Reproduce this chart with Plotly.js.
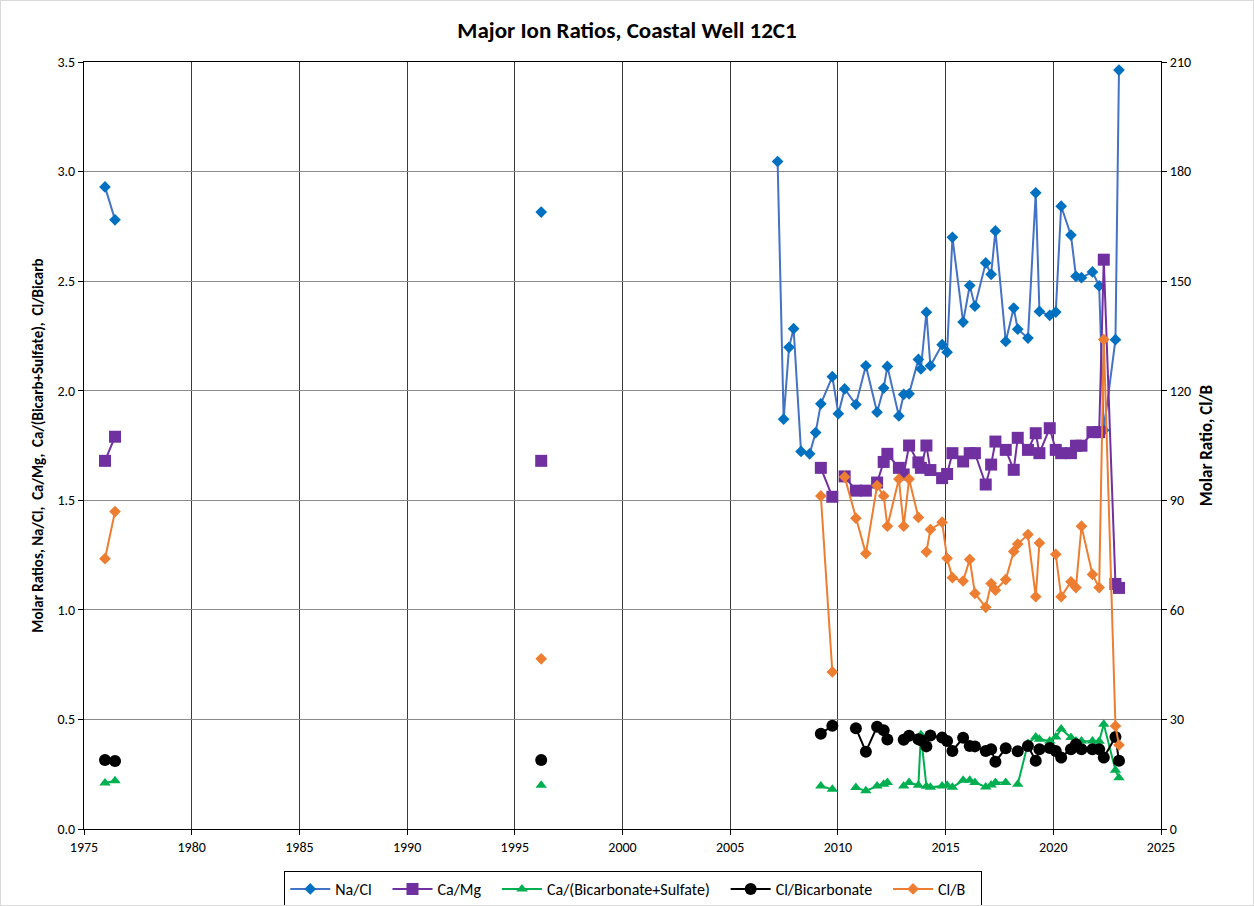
<!DOCTYPE html>
<html>
<head>
<meta charset="utf-8">
<script src="https://cdn.plot.ly/plotly-3.0.1.min.js"></script>
<style>
  html, body { margin: 0; padding: 0; background: #fff; }
  #chart { width: 1252px; height: 904px; border: 1px solid #d9d9d9; }
</style>
</head>
<body>
<div id="chart"></div>
<script>
// Sample dates (decimal years)
const dates = [
  1975.975, 1976.44, 1996.226, 2007.201, 2007.48, 2007.731, 2007.944, 2008.288, 2008.688, 2008.967,
  2009.208, 2009.742, 2010.021, 2010.314, 2010.835, 2011.299, 2011.819, 2012.126, 2012.297, 2012.831,
  2013.054, 2013.305, 2013.737, 2013.853, 2014.109, 2014.294, 2014.838, 2015.07, 2015.316, 2015.813,
  2016.12, 2016.361, 2016.863, 2017.114, 2017.313, 2017.792, 2018.163, 2018.349, 2018.823, 2019.185,
  2019.356, 2019.835, 2020.114, 2020.365, 2020.82, 2021.052, 2021.308, 2021.818, 2022.129, 2022.343,
  2022.886, 2023.049
];

// Series (left axis unless noted); null = no sample
const naCl = [
  2.93, 2.78, 2.815, 3.046, 1.87, 2.198, 2.283, 1.723, 1.712, 1.809,
  1.94, 2.064, 1.895, 2.008, 1.937, 2.114, 1.902, 2.012, 2.111, 1.885,
  1.983, 1.986, 2.143, 2.099, 2.358, 2.114, 2.21, 2.176, 2.70, 2.313,
  2.48, 2.386, 2.583, 2.531, 2.729, 2.225, 2.377, 2.281, 2.24, 2.903,
  2.362, 2.344, 2.359, 2.842, 2.71, 2.522, 2.516, 2.542, 2.478, 1.82,
  2.233, 3.463
];
const caMg = [
  1.68, 1.79, 1.68, null, null, null, null, null, null, null,
  1.648, 1.516, null, 1.609, 1.544, 1.544, 1.581, 1.675, 1.712, 1.648,
  1.618, 1.75, 1.673, 1.648, 1.75, 1.638, 1.601, 1.62, 1.715, 1.677,
  1.715, 1.715, 1.572, 1.663, 1.768, 1.73, 1.639, 1.785, 1.73, 1.806,
  1.715, 1.829, 1.73, 1.715, 1.715, 1.749, 1.749, 1.811, 1.811, 2.598,
  1.118, 1.10
];
const caBicSulf = [
  0.21, 0.22, 0.20, null, null, null, null, null, null, null,
  0.196, 0.181, null, null, 0.189, 0.174, 0.196, 0.204, 0.212, null,
  0.196, 0.212, 0.20, 0.43, 0.195, 0.19, 0.196, 0.20, 0.19, 0.222,
  0.222, 0.212, 0.192, 0.201, 0.212, 0.212, null, 0.204, 0.39, 0.42,
  0.41, 0.402, 0.42, 0.456, 0.417, 0.402, 0.402, 0.402, 0.40, 0.478,
  0.268, 0.234
];
const clBicarb = [
  0.315, 0.31, 0.315, null, null, null, null, null, null, null,
  0.435, 0.471, null, null, 0.46, 0.353, 0.467, 0.451, 0.408, null,
  0.407, 0.425, 0.41, 0.405, 0.377, 0.427, 0.417, 0.402, 0.356, 0.416,
  0.379, 0.377, 0.356, 0.364, 0.307, 0.368, null, 0.355, 0.379, 0.311,
  0.364, 0.37, 0.356, 0.326, 0.364, 0.387, 0.364, 0.364, 0.364, 0.326,
  0.42, 0.311
];
// Right axis
const clB = [
  74.0, 86.9, 46.6, null, null, null, null, null, null, null,
  91.2, 43.0, null, 96.4, 85.1, 75.4, 94.0, 91.2, 82.9, 95.8,
  82.9, 95.8, 85.3, null, 75.9, 82.0, 84.0, 74.1, 68.8, 67.9,
  73.8, 64.5, 60.7, 67.2, 65.4, 68.3, 76.0, 78.0, 80.6, 63.6,
  78.3, null, 75.2, 63.6, 67.7, 66.1, 82.9, 69.7, 66.1, 134.0,
  28.2, 23.0
];

// Era breaks: the 1970s, 1996 and 2007+ groups are not joined by lines
const eraBreaks = [1986, 2002];
function withBreaks(xs, ys) {
  const X = [], Y = [];
  for (let i = 0; i < xs.length; i++) {
    if (i > 0) {
      for (const b of eraBreaks) {
        if (xs[i - 1] < b && xs[i] > b) { X.push(b); Y.push(null); }
      }
    }
    X.push(xs[i]); Y.push(ys[i]);
  }
  return {x: X, y: Y};
}

const names = ['Na/Cl', 'Ca/Mg', 'Ca/(Bicarbonate+Sulfate)', 'Cl/Bicarbonate', 'Cl/B'];
const FONT = 'Carlito, Calibri, Lato, "Liberation Sans", sans-serif';
const PAD = '\u00a0\u00a0\u00a0';

function tr(vals, name, lineColor, mColor, symbol, size, axis) {
  const d = withBreaks(dates, vals);
  return {
    type: 'scatter', mode: 'lines+markers', name: name + PAD,
    x: d.x, y: d.y, yaxis: axis || 'y', connectgaps: false,
    line: {color: lineColor, width: 2},
    marker: {color: mColor, symbol: symbol, size: size, line: {width: 0}}
  };
}

const data = [
  tr(naCl, names[0], '#4472C4', '#0070C0', 'diamond', 9),
  tr(caMg, names[1], '#7030A0', '#7030A0', 'square', 12),
  tr(caBicSulf, names[2], '#00B050', '#00B050', 'triangle-up', 10),
  tr(clBicarb, names[3], '#000000', '#000000', 'circle', 12),
  tr(clB, names[4], '#ED7D31', '#ED7D31', 'diamond', 9, 'y2')
];

const layout = {
  width: 1252, height: 904,
  paper_bgcolor: '#ffffff', plot_bgcolor: '#ffffff',
  font: {family: FONT, size: 14, color: '#000'},
  margin: {l: 83, r: 92, t: 61, b: 76},
  title: {
    text: '<b>Major Ion Ratios, Coastal Well 12C1</b>',
    font: {family: FONT, size: 23, color: '#000'},
    x: 0.5, xref: 'container', xanchor: 'center',
    y: 1 - 29 / 904, yref: 'container', yanchor: 'middle'
  },
  xaxis: {
    range: [1975, 2025], dtick: 5, tick0: 1975,
    showgrid: true, gridcolor: '#3a3a3a', gridwidth: 1,
    showline: true, linecolor: '#000', linewidth: 1, mirror: true,
    ticks: 'outside', ticklen: 5, tickcolor: '#000',
    tickfont: {family: FONT, size: 14, color: '#000'},
    zeroline: false
  },
  yaxis: {
    range: [0, 3.5], dtick: 0.5, tickformat: '.1f',
    showgrid: true, gridcolor: '#8a8a8a', gridwidth: 1,
    showline: true, linecolor: '#000', linewidth: 1,
    ticks: 'outside', ticklen: 5, tickcolor: '#000',
    tickfont: {family: FONT, size: 14, color: '#000'},
    zeroline: false,
    title: {text: '<b>Molar Ratios, Na/Cl,  Ca/Mg,  Ca/(Bicarb+Sulfate),  Cl/Bicarb</b>',
            font: {family: FONT, size: 15, color: '#000'}, standoff: 10}
  },
  yaxis2: {
    range: [0, 210], dtick: 30, overlaying: 'y', side: 'right',
    showgrid: false, showline: true, linecolor: '#000', linewidth: 1,
    ticks: 'outside', ticklen: 5, tickcolor: '#000',
    tickfont: {family: FONT, size: 14, color: '#000'},
    zeroline: false,
    title: {text: '<b>Molar Ratio, Cl/B</b>',
            font: {family: FONT, size: 17, color: '#000'}, standoff: 10}
  },
  showlegend: true,
  legend: {
    orientation: 'h', x: 0.505, xanchor: 'center', xref: 'container',
    y: 1 - 870 / 904, yanchor: 'top', yref: 'container',
    bordercolor: '#000', borderwidth: 1, bgcolor: '#fff',
    font: {family: FONT, size: 16, color: '#000'},
    itemwidth: 40, tracegroupgap: 0
  }
};

Plotly.newPlot('chart', data, layout, {displayModeBar: false, staticPlot: true});
</script>
</body>
</html>
